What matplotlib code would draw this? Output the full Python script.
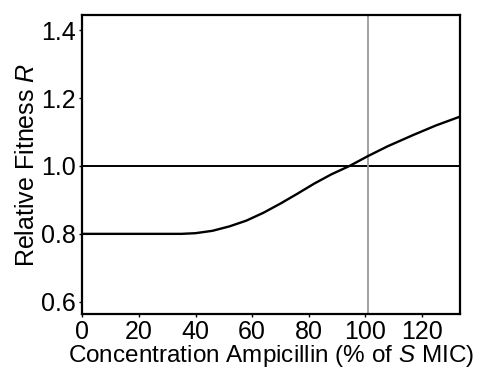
import numpy as np
import matplotlib.pyplot as plt

plt.rcParams['font.family'] = ['Liberation Sans', 'DejaVu Sans']
plt.rcParams['mathtext.fontset'] = 'custom'
plt.rcParams['mathtext.rm'] = 'Liberation Sans'
plt.rcParams['mathtext.it'] = 'Liberation Sans:italic'

# valores
conc = [0, 20, 35, 40, 46, 52, 58, 64, 70, 76, 82, 88, 94.5, 101, 108, 117, 125, 133.5]
fitness = [0.8, 0.8, 0.8, 0.802, 0.809, 0.822, 0.839, 0.862, 0.889, 0.918, 0.948,
           0.975, 1.0, 1.029, 1.058, 1.091, 1.119, 1.145]
mic = 101
x_ticks = [0, 20, 40, 60, 80, 100, 120]
y_ticks = [0.6, 0.8, 1.0, 1.2, 1.4]

fig = plt.figure(figsize=(4.82, 3.69), dpi=100)
ax = fig.add_axes([0.171, 0.149, 0.783, 0.810])

ax.axhline(1.0, color='black', lw=1.4)
ax.axvline(mic, color='#999999', lw=1.3)
ax.plot(conc, fitness, color='black', lw=1.7)

ax.set_xlim(0, 133.5)
ax.set_ylim(0.564, 1.444)
ax.set_xticks(x_ticks)
ax.set_yticks(y_ticks)
ax.set_yticklabels([f'{v:.1f}' for v in y_ticks])
ax.tick_params(direction='out', length=2.5, width=1, labelsize=18, pad=2)
for s in ax.spines.values():
    s.set_linewidth(1.6)

ax.set_xlabel('Concentration Ampicillin (% of $S$ MIC)', fontsize=17.5, labelpad=-1)
ax.set_ylabel('Relative Fitness $R$', fontsize=18, labelpad=2)

fig.savefig('out.png', dpi=100)
